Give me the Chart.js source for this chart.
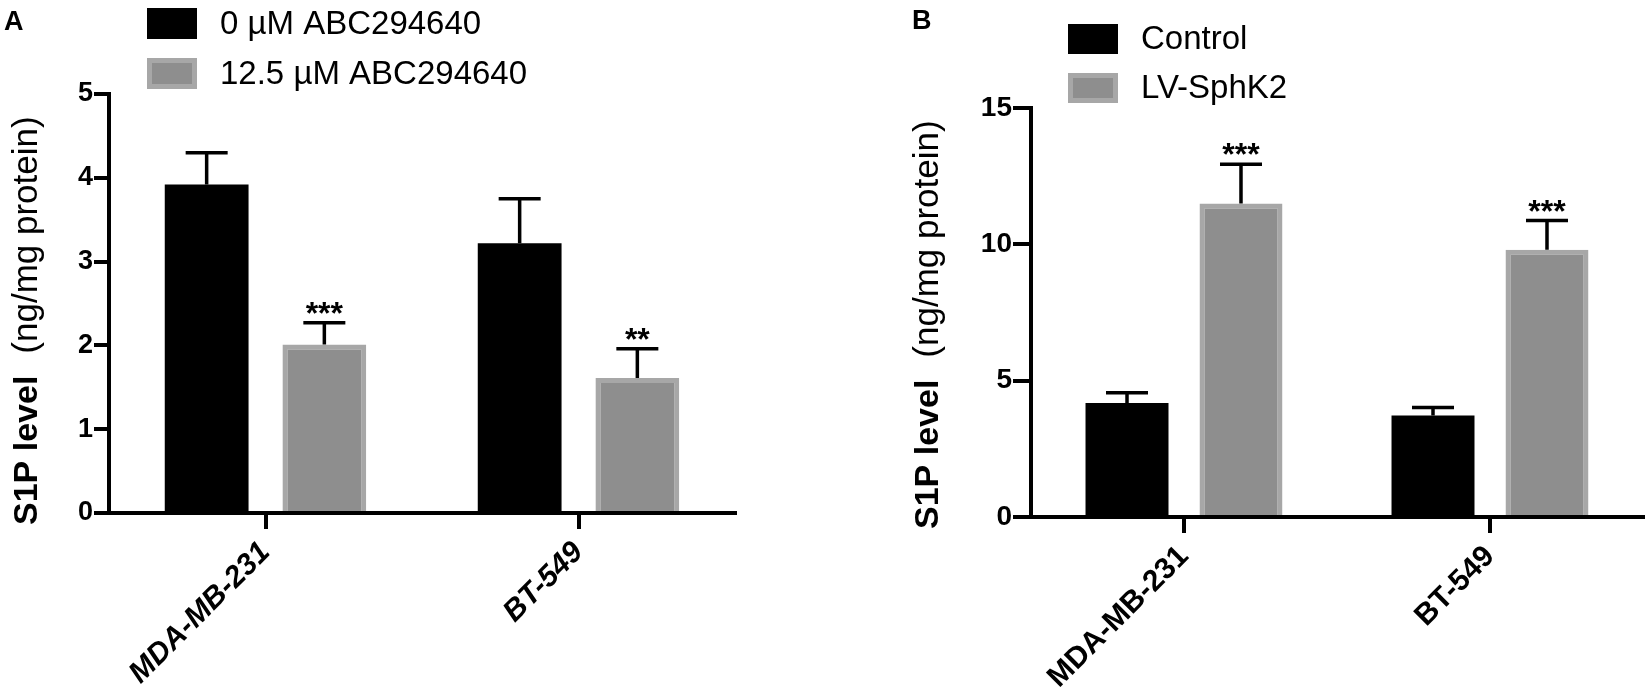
<!DOCTYPE html>
<html><head><meta charset="utf-8">
<script src="https://cdn.jsdelivr.net/npm/chart.js@4.4.1/dist/chart.umd.min.js"></script>
<style>
html,body{margin:0;padding:0;background:#fff;}
#wrap{position:relative;width:1650px;height:698px;overflow:hidden;}
.pane{position:absolute;top:0;width:825px;height:698px;}
</style></head><body>
<div id="wrap">
  <div class="pane" style="left:0"><canvas id="cA"></canvas></div>
  <div class="pane" style="left:825px"><canvas id="cB"></canvas></div>
</div>
<script>
// ---------- data ----------
const categories = ['MDA-MB-231', 'BT-549'];

const seriesA = ['0 µM ABC294640', '12.5 µM ABC294640'];
const meanA0 = [3.92, 3.22];
const errA0  = [0.38, 0.53];
const meanA1 = [2.01, 1.61];
const errA1  = [0.26, 0.35];
const sigA1  = ['***', '**'];
const ticksA = [0, 1, 2, 3, 4, 5];

const seriesB = ['Control', 'LV-SphK2'];
const meanB0 = [4.18, 3.72];
const errB0  = [0.38, 0.30];
const meanB1 = [11.5, 9.8];
const errB1  = [1.44, 1.07];
const sigB1  = ['***', '***'];
const ticksB = [0, 5, 10, 15];

const yTitleBold = 'S1P level';
const yTitleNorm = '(ng/mg protein)';

// ---------- styling ----------
const FAM = "'Liberation Sans', Arial, Helvetica, sans-serif";
const BLACK = '#000000';
const GREY_FILL = '#8e8e8e';
const GREY_EDGE = '#a7a7a7';

const errorBarPlugin = {
  id: 'errbars',
  afterDatasetsDraw(chart, args, o) {
    const ctx = chart.ctx, y = chart.scales.y;
    chart.data.datasets.forEach((ds, i) => {
      const meta = chart.getDatasetMeta(i);
      meta.data.forEach((bar, j) => {
        const base = y.getPixelForValue(ds.data[j]);
        const top = y.getPixelForValue(ds.data[j] + ds.errUp[j]);
        ctx.save();
        ctx.strokeStyle = '#000';
        ctx.lineWidth = o.lineWidth;
        ctx.beginPath();
        ctx.moveTo(bar.x, base);
        ctx.lineTo(bar.x, top);
        ctx.moveTo(bar.x - o.capHalf, top);
        ctx.lineTo(bar.x + o.capHalf, top);
        ctx.stroke();
        if (ds.sig && ds.sig[j]) {
          ctx.fillStyle = '#000';
          ctx.font = o.sigFont;
          ctx.textAlign = 'center';
          ctx.textBaseline = 'alphabetic';
          ctx.fillText(ds.sig[j], bar.x, top + o.sigOffset);
        }
        ctx.restore();
      });
    });
  }
};

const decorPlugin = {
  id: 'decor',
  afterDraw(chart, args, o) {
    const ctx = chart.ctx;
    ctx.save();
    // panel letter
    ctx.fillStyle = '#000';
    ctx.font = 'bold 27px ' + FAM;
    ctx.textAlign = 'left';
    ctx.textBaseline = 'alphabetic';
    ctx.fillText(o.letter, o.letterX, o.letterY);
    // legend
    chart.data.datasets.forEach((ds, i) => {
      const y0 = o.legTop + i * o.legGap;
      if (ds.borderWidth > 0) {
        ctx.fillStyle = ds.borderColor;
        ctx.fillRect(o.legX, y0, o.boxW, o.boxH);
        const b = 5;
        ctx.fillStyle = ds.backgroundColor;
        ctx.fillRect(o.legX + b, y0 + b, o.boxW - 2 * b, o.boxH - 2 * b);
      } else {
        ctx.fillStyle = ds.backgroundColor;
        ctx.fillRect(o.legX, y0, o.boxW, o.boxH);
      }
      ctx.fillStyle = '#000';
      ctx.font = o.legFont;
      ctx.textBaseline = 'middle';
      ctx.fillText(ds.label, o.textX, y0 + o.boxH / 2 + 1);
    });
    // y title (mixed weights)
    ctx.translate(o.titleX, o.titleY);
    ctx.rotate(-Math.PI / 2);
    ctx.textBaseline = 'alphabetic';
    ctx.textAlign = 'left';
    ctx.font = 'bold 34px ' + FAM;
    ctx.fillText(yTitleBold, 0, 0);
    const w = ctx.measureText(yTitleBold).width + o.titleGap;
    ctx.font = '35px ' + FAM;
    ctx.fillText(yTitleNorm, w, 0);
    ctx.restore();
  }
};

function makeChart(id, cfg) {
  const datasets = [
    { label: cfg.names[0], data: cfg.m0, errUp: cfg.e0, sig: null,
      backgroundColor: BLACK, borderColor: BLACK, borderWidth: 0 },
    { label: cfg.names[1], data: cfg.m1, errUp: cfg.e1, sig: cfg.sig1,
      backgroundColor: GREY_FILL, borderColor: GREY_EDGE, borderWidth: 5, borderSkipped: 'bottom' }
  ];
  return new Chart(document.getElementById(id), {
    type: 'bar',
    data: { labels: categories, datasets },
    options: {
      responsive: true, maintainAspectRatio: false, animation: false,
      devicePixelRatio: 1,
      categoryPercentage: cfg.catPct, barPercentage: cfg.barPct,
      layout: { padding: cfg.padding },
      plugins: {
        legend: { display: false }, tooltip: { enabled: false },
        errbars: { lineWidth: 3.5, capHalf: 21, sigFont: 'bold 32px ' + FAM, sigOffset: 1 },
        decor: cfg.decor
      },
      scales: {
        x: {
          offset: true,
          afterFit: s => { s.height = cfg.xHeight; },
          border: { display: true, color: '#000', width: 4 },
          grid: { display: true, offset: false, drawOnChartArea: false, drawTicks: true,
                  tickLength: 16, tickWidth: 4, tickColor: '#000', color: '#000', lineWidth: 4 },
          ticks: { minRotation: 45, maxRotation: 45, padding: 6, color: '#000',
                   font: { family: FAM, weight: 'bold', size: 30, style: cfg.xStyle } }
        },
        y: {
          min: cfg.ticks[0], max: cfg.ticks[cfg.ticks.length - 1],
          afterBuildTicks: s => { s.ticks = cfg.ticks.map(v => ({ value: v })); },
          afterFit: s => { s.width = cfg.yWidth; },
          border: { display: true, color: '#000', width: 4 },
          grid: { display: true, drawOnChartArea: false, drawTicks: true,
                  tickLength: cfg.yTick, tickWidth: 4, tickColor: '#000', color: '#000', lineWidth: 4 },
          ticks: { padding: 1, color: '#000',
                   font: { family: FAM, weight: 'bold', size: cfg.yFont } }
        }
      }
    },
    plugins: [errorBarPlugin, decorPlugin]
  });
}

makeChart('cA', {
  names: seriesA, m0: meanA0, e0: errA0, m1: meanA1, e1: errA1, sig1: sigA1, ticks: ticksA,
  catPct: 0.752, barPct: 0.712,
  padding: { top: 94, right: 90, left: 0, bottom: 0 },
  xHeight: 185, yWidth: 109, yTick: 15, yFont: 27, xStyle: 'italic',
  decor: { letter: 'A', letterX: 4, letterY: 30,
           legX: 147, legTop: 8, legGap: 50, boxW: 50, boxH: 31, textX: 220,
           legFont: '33px ' + FAM,
           titleX: 37, titleY: 525, titleGap: 22 }
});

makeChart('cB', {
  names: seriesB, m0: meanB0, e0: errB0, m1: meanB1, e1: errB1, sig1: sigB1, ticks: ticksB,
  catPct: 0.745, barPct: 0.728,
  padding: { top: 108, right: 7, left: 0, bottom: 0 },
  xHeight: 181, yWidth: 206, yTick: 18, yFont: 28, xStyle: 'normal',
  decor: { letter: 'B', letterX: 87, letterY: 29,
           legX: 243, legTop: 24, legGap: 49, boxW: 50, boxH: 30, textX: 316,
           legFont: '33px ' + FAM,
           titleX: 113, titleY: 529, titleGap: 22 }
});
</script>
</body></html>
